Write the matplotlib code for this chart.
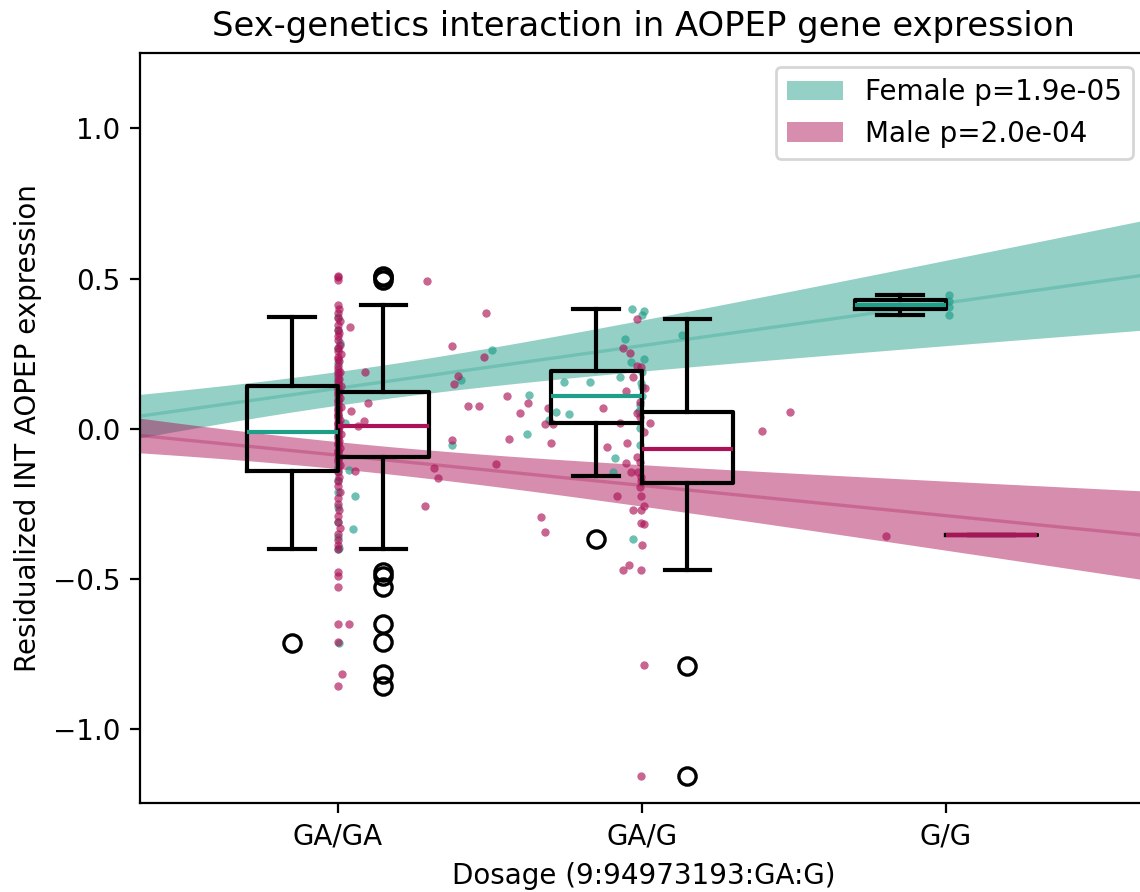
import numpy as np
import matplotlib
matplotlib.use("Agg")
import matplotlib.pyplot as plt
from matplotlib.patches import Patch

# ---------------- data ----------------
genotype_labels = ["GA/GA", "GA/G", "G/G"]
genotype_pos = [0, 1, 2]

female_label = "Female p=1.9e-05"
male_label = "Male p=2.0e-04"
female_color = "#1f9e89"
male_color = "#ab1257"

# regression fits (intercept, slope) and CI half-widths at dosage 0,1,2
female_fit = [0.135, 0.142]
male_fit = [-0.0875, -0.1006]
ci_dosage = [0, 1, 2]
female_ci_half = [0.056, 0.085, 0.142]
male_ci_half = [0.045, 0.069, 0.115]

# box statistics per genotype: [whislo, q1, med, q3, whishi]
female_box = [
    [-0.400, -0.140, -0.011, 0.144, 0.373],
    [-0.156, 0.019, 0.111, 0.193, 0.398],
    [0.379, 0.398, 0.411, 0.429, 0.446],
]
female_fliers = [[-0.712], [-0.367], []]
male_box = [
    [-0.400, -0.094, 0.011, 0.124, 0.412],
    [-0.469, -0.181, -0.068, 0.055, 0.365],
    [-0.353, -0.353, -0.353, -0.353, -0.353],
]
male_fliers = [
    [0.51, 0.505, 0.495, -0.475, -0.49, -0.525, -0.65, -0.71, -0.815, -0.855],
    [-0.788, -1.156],
    [],
]

# individual samples (dosage, residualized expression)
female_dosage = [
    0.006, 0.036, 0.056, 0.049, 0.003, 0.003, 0.377, 0.023,
    0.0, 0.0, 0.0, 0.0, 0.0, 0.0, 0.0, 0.0, 0.0, 0.0, 0.0, 0.0, 0.0,
    0.0, 0.0, 0.0, 0.0, 0.0, 0.0, 0.0, 0.0, 0.0, 0.0, 0.0, 0.0, 0.0,
    0.506, 0.404, 0.629, 0.743, 0.829, 0.719, 0.760, 0.695, 0.623,
    0.911, 0.906, 0.968, 1.007, 1.002, 0.946, 0.964, 1.007, 0.928,
    0.997, 0.995, 0.995, 0.971, 1.131, 1.0, 1.0, 0.99, 1.0, 0.995,
    2.01, 2.01, 2.01, 2.01,
]
female_expr = [
    0.286, -0.136, -0.225, -0.333, -0.397, -0.712, -0.053, 0.02,
    0.373, 0.33, 0.27, 0.22, 0.19, 0.165, 0.144, 0.12, 0.095, 0.07, 0.045,
    0.02, 0.0, -0.011, -0.025, -0.05, -0.075, -0.10, -0.125, -0.14, -0.17,
    -0.21, -0.26, -0.31, -0.36, -0.40,
    0.263, 0.163, 0.112, 0.155, 0.155, 0.057, 0.049, 0.028, -0.017,
    -0.098, -0.145, 0.398, 0.392, 0.379, 0.298, 0.221, 0.232, 0.174,
    0.152, 0.002, -0.053, -0.365, 0.313, 0.111, 0.19, 0.06, 0.14, 0.08,
    0.446, 0.379, 0.405, 0.425,
]

male_col_expr = [
    0.51, 0.505, 0.495, 0.412, 0.40, 0.385, 0.37, 0.36, 0.345, 0.33, 0.32,
    0.31, 0.295, 0.28, 0.27, 0.26, 0.25, 0.24, 0.232, 0.225, 0.21, 0.20,
    0.19, 0.185, 0.175, 0.165, 0.158, 0.15, 0.142, 0.135, 0.128, 0.124,
    0.118, 0.11, 0.103, 0.095, 0.088, 0.08, 0.072, 0.065, 0.058, 0.05,
    0.043, 0.036, 0.03, 0.022, 0.015, 0.011, 0.005, -0.002, -0.01, -0.018,
    -0.025, -0.033, -0.04, -0.048, -0.055, -0.062, -0.07, -0.078, -0.085,
    -0.094, -0.10, -0.11, -0.12, -0.13, -0.145, -0.16, -0.175, -0.19,
    -0.21, -0.23, -0.25, -0.27, -0.29, -0.31, -0.33, -0.35, -0.37, -0.385,
    -0.40, -0.475, -0.49, -0.525, -0.65, -0.71, -0.855,
]
male_col_dosage = [
    0.0, 0.0, 0.0, 0.0, 0.005, 0.0, 0.0, 0.008, 0.0, 0.0, 0.004,
    0.0, 0.0, 0.006, 0.0, 0.0, 0.01, 0.0, 0.0, 0.003, 0.0, 0.0,
    0.007, 0.0, 0.0, 0.004, 0.0, 0.0, 0.012, 0.0, 0.0, 0.003,
    0.0, 0.0, 0.006, 0.0, 0.0, 0.0, 0.009, 0.0, 0.0, 0.002,
    0.0, 0.0, 0.007, 0.0, 0.0, 0.0, 0.004, 0.0, 0.0, 0.01,
    0.0, 0.0, 0.003, 0.0, 0.0, 0.006, 0.0, 0.0, 0.0,
    0.005, 0.0, 0.0, 0.008, 0.0, 0.0, 0.003, 0.0, 0.0,
    0.006, 0.0, 0.0, 0.004, 0.0, 0.0, 0.007, 0.0, 0.0, 0.002,
    0.0, 0.0, 0.0, 0.0, 0.0, 0.0, 0.0,
]
male_off_dosage = [
    0.039, 0.089, 0.098, 0.042, 0.086, 0.066, 0.056, 0.037, 0.015, 0.292,
    0.374, 0.382, 0.394, 0.377, 0.317, 0.328, 0.288, 0.489, 0.480, 0.558,
    0.429, 0.465, 0.626, 0.599, 0.690, 0.871, 0.681, 0.708, 0.563, 0.701,
    0.886, 0.519, 0.917, 0.670, 0.683, 0.928, 0.950, 0.947, 0.966, 0.971,
    0.937, 0.957, 0.999, 1.002, 0.999, 1.007, 1.007, 0.999, 0.996, 1.007,
    0.999, 0.983, 0.937, 0.961, 0.983, 0.999, 0.971, 0.947, 1.010, 0.995,
    0.983, 0.995, 1.026, 1.007, 0.983, 0.995, 0.988, 0.999, 0.999, 0.995,
    1.489, 1.397, 1.805,
]
male_off_expr = [
    0.340, 0.19, 0.087, 0.058, 0.027, 0.008, -0.139, -0.648, -0.815, 0.492,
    0.277, 0.149, 0.176, -0.037, -0.131, -0.164, -0.255, 0.385, 0.238, 0.110,
    0.076, 0.076, 0.085, 0.054, 0.071, 0.069, 0.016, 0.016, -0.034, -0.046,
    -0.061, -0.116, -0.222, -0.294, -0.344, 0.018, -0.046, -0.112, -0.145, -0.269,
    -0.469, -0.453, -0.469, -0.388, -0.312, -0.317, -0.255, -0.223, -0.269, -0.787,
    -1.156, 0.365, 0.268, 0.252, 0.21, 0.205, 0.174, 0.126, 0.135, 0.091,
    0.052, 0.039, 0.021, -0.009, -0.092, -0.109, -0.142, -0.159, -0.175, -0.192,
    0.055, -0.008, -0.355,
]
male_dosage = male_col_dosage + male_off_dosage
male_expr = male_col_expr + male_off_expr

# ---------------- figure ----------------
fig = plt.figure(figsize=(5.7, 4.46), dpi=200)
ax = fig.add_axes([0.1228, 0.0998, 0.8830, 0.8408])

xlim = (-0.651, 2.661)
ax.set_xlim(*xlim)
ax.set_ylim(-1.245, 1.251)

xs = np.linspace(xlim[0], xlim[1], 200)
for fit, ci_half, col in [(female_fit, female_ci_half, female_color),
                          (male_fit, male_ci_half, male_color)]:
    yline = fit[0] + fit[1] * xs
    coef = np.polyfit(ci_dosage, np.array(ci_half) ** 2, 2)
    half = np.sqrt(np.polyval(coef, xs))
    ax.fill_between(xs, yline - half, yline + half, color=col, alpha=0.48,
                    linewidth=0, zorder=1)
    ax.plot(xs, yline, color=col, alpha=0.3, linewidth=1.2, zorder=1.5)

ax.scatter(female_dosage, female_expr, s=9, color=female_color, alpha=0.65,
           linewidths=0, zorder=2)
ax.scatter(male_dosage, male_expr, s=9, color=male_color, alpha=0.65,
           linewidths=0, zorder=2.1)


def make_stats(box, fliers):
    out = []
    for b, f in zip(box, fliers):
        out.append(dict(whislo=b[0], q1=b[1], med=b[2], q3=b[3], whishi=b[4],
                        fliers=f))
    return out


for box, fliers, col, off in [(female_box, female_fliers, female_color, -0.15),
                              (male_box, male_fliers, male_color, 0.15)]:
    ax.bxp(make_stats(box, fliers),
           positions=[p + off for p in genotype_pos], widths=0.3,
           manage_ticks=False,
           boxprops=dict(color="black", linewidth=1.5),
           whiskerprops=dict(color="black", linewidth=1.5),
           capprops=dict(color="black", linewidth=1.5),
           medianprops=dict(color=col, linewidth=1.5),
           flierprops=dict(marker="o", markerfacecolor="none",
                           markeredgecolor="black", markersize=6.2,
                           markeredgewidth=1.2),
           zorder=3)

ax.set_xticks(genotype_pos)
ax.set_xticklabels(genotype_labels, fontsize=10)
ax.tick_params(axis="y", labelsize=10)
ax.set_xlabel("Dosage (9:94973193:GA:G)", fontsize=10)
ax.set_ylabel("Residualized INT AOPEP expression", fontsize=10)
ax.set_title("Sex-genetics interaction in AOPEP gene expression", fontsize=12.2)

handles = [Patch(facecolor=female_color, alpha=0.48, edgecolor="none"),
           Patch(facecolor=male_color, alpha=0.48, edgecolor="none")]
ax.legend(handles, [female_label, male_label], loc="upper right", fontsize=10)

fig.savefig("out.png", dpi=200)
